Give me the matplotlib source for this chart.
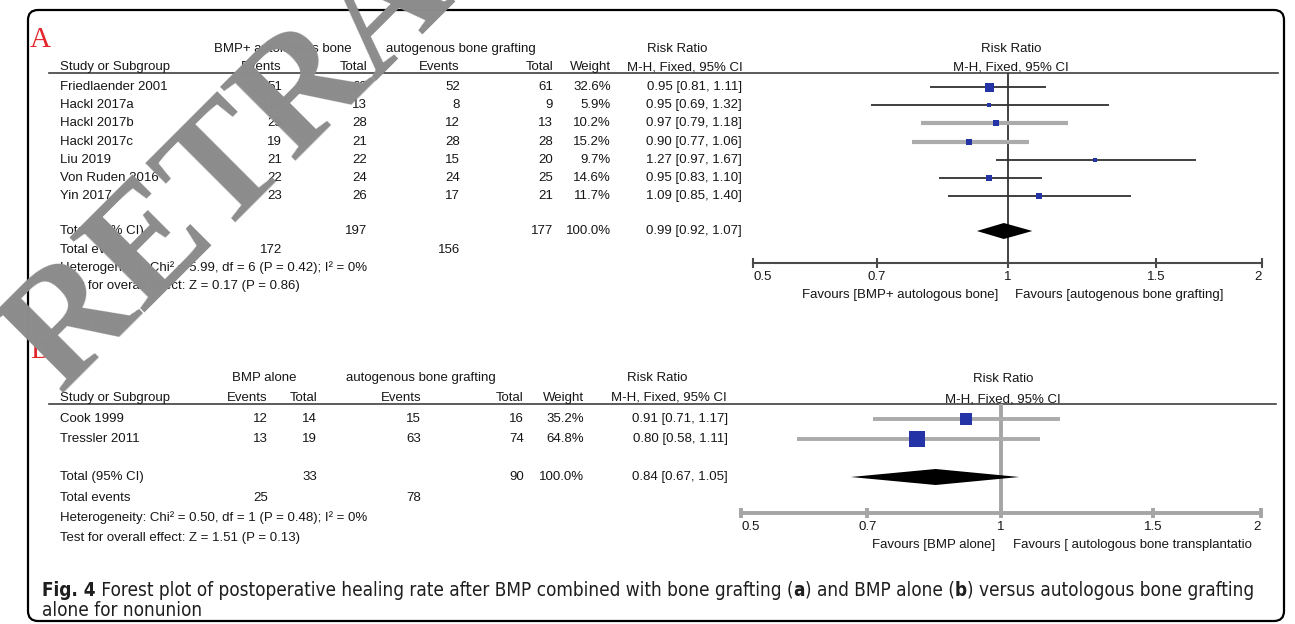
import matplotlib.pyplot as plt
from matplotlib import font_manager
from matplotlib.patches import FancyBboxPatch
from matplotlib.ticker import NullLocator

plt.rcParams['font.family'] = ['Liberation Sans', 'DejaVu Sans']
plt.rcParams['font.size'] = 9.5

W, H = 1295, 624

# --- panel A: BMP + autologous bone vs autogenous bone grafting
studies_a = ['Friedlaender 2001', 'Hackl 2017a', 'Hackl 2017b', 'Hackl 2017c',
             'Liu 2019', 'Von Ruden 2016', 'Yin 2017']
exp_events_a = [51, 11, 25, 19, 21, 22, 23]
exp_total_a = [63, 13, 28, 21, 22, 24, 26]
ctl_events_a = [52, 8, 12, 28, 15, 24, 17]
ctl_total_a = [61, 9, 13, 28, 20, 25, 21]
weight_a = [32.6, 5.9, 10.2, 15.2, 9.7, 14.6, 11.7]
rr_a = [0.95, 0.95, 0.97, 0.90, 1.27, 0.95, 1.09]
lo_a = [0.81, 0.69, 0.79, 0.77, 0.97, 0.83, 0.85]
hi_a = [1.11, 1.32, 1.18, 1.06, 1.67, 1.10, 1.40]
pooled_a = [0.99, 0.92, 1.07]
groups_a = ['BMP+ autologous bone', 'autogenous bone grafting']
het_a = 'Heterogeneity: Chi² = 5.99, df = 6 (P = 0.42); I² = 0%'
test_a = 'Test for overall effect: Z = 0.17 (P = 0.86)'
favours_a = ['Favours [BMP+ autologous bone]', 'Favours [autogenous bone grafting]']

# --- panel B: BMP alone vs autogenous bone grafting
studies_b = ['Cook 1999', 'Tressler 2011']
exp_events_b = [12, 13]
exp_total_b = [14, 19]
ctl_events_b = [15, 63]
ctl_total_b = [16, 74]
weight_b = [35.2, 64.8]
rr_b = [0.91, 0.80]
lo_b = [0.71, 0.58]
hi_b = [1.17, 1.11]
pooled_b = [0.84, 0.67, 1.05]
groups_b = ['BMP alone', 'autogenous bone grafting']
het_b = 'Heterogeneity: Chi² = 0.50, df = 1 (P = 0.48); I² = 0%'
test_b = 'Test for overall effect: Z = 1.51 (P = 0.13)'
favours_b = ['Favours [BMP alone]', 'Favours [ autologous bone transplantatio']

ticks = [0.5, 0.7, 1, 1.5, 2]
tick_labels = ['0.5', '0.7', '1', '1.5', '2']

panels = [
    dict(letter='A', studies=studies_a, ee=exp_events_a, et=exp_total_a, ce=ctl_events_a,
         ct=ctl_total_a, wt=weight_a, rr=rr_a, lo=lo_a, hi=hi_a, pooled=pooled_a,
         groups=groups_a, het=het_a, test=test_a, favours=favours_a),
    dict(letter='B', studies=studies_b, ee=exp_events_b, et=exp_total_b, ce=ctl_events_b,
         ct=ctl_total_b, wt=weight_b, rr=rr_b, lo=lo_b, hi=hi_b, pooled=pooled_b,
         groups=groups_b, het=het_b, test=test_b, favours=favours_b),
]

# pixel layout of each panel (y grows downwards)
layouts = [
    dict(letter_y=47, cols=[60, 282, 367, 460, 553, 611, 742], group_x=[283, 461, 677], mh_x=685,
         hdr_y=[49, 67], rule=[49, 1278, 73], rows=[87 + 18.2 * i for i in range(7)],
         tot_y=[231, 250, 268, 286], px=[753, 1262], axis_y=263, rr_x=1011, rhdr_y=[49, 68],
         fav_y=295, fav_x=[998, 1015],
         vline=('#333333', 1.3), axis=('#4a4a4a', 1.5),
         ci_c=['#303030', '#303030', '#ababab', '#ababab', '#303030', '#303030', '#303030'],
         ci_lw=[1.3, 1.3, 3.0, 3.0, 1.3, 1.3, 1.3], max_side=9),
    dict(letter_y=358, cols=[60, 268, 317, 421, 524, 584, 728], group_x=[264, 421, 657], mh_x=669,
         hdr_y=[378, 398], rule=[49, 1276, 404], rows=[419, 439],
         tot_y=[477, 498, 518, 538], px=[741, 1261], axis_y=513, rr_x=1003, rhdr_y=[379, 399],
         fav_y=545, fav_x=[995, 1013],
         vline=('#a5a5a5', 2.8), axis=('#a5a5a5', 2.8),
         ci_c=['#ababab', '#ababab'], ci_lw=[2.8, 2.8], max_side=16),
]

ink = '#161616'
fig = plt.figure(figsize=(W / 100, H / 100), dpi=100)
bg = fig.add_axes([0, 0, 1, 1])
bg.set_xlim(0, W)
bg.set_ylim(H, 0)
bg.axis('off')

# rounded frame around the whole figure
bg.add_patch(FancyBboxPatch((28, 10), 1256, 611, boxstyle='round,pad=0,rounding_size=10',
                            fill=False, ec='black', lw=1.6))

for d, L in zip(panels, layouts):
    c = L['cols']
    bg.text(30, L['letter_y'], d['letter'], family='Liberation Serif', fontsize=21,
            color='#e3262a', va='baseline')

    # header
    h1, h2 = L['hdr_y']
    bg.text(L['group_x'][0], h1, d['groups'][0], ha='center', va='center', color=ink)
    bg.text(L['group_x'][1], h1, d['groups'][1], ha='center', va='center', color=ink)
    bg.text(L['group_x'][2], h1, 'Risk Ratio', ha='center', va='center', color=ink)
    bg.text(c[0], h2, 'Study or Subgroup', va='center', color=ink)
    for x, s in zip(c[1:6], ['Events', 'Total', 'Events', 'Total', 'Weight']):
        bg.text(x, h2, s, ha='right', va='center', color=ink)
    bg.text(L['mh_x'], h2, 'M-H, Fixed, 95% CI', ha='center', va='center', color=ink)
    bg.text(L['rr_x'], L['rhdr_y'][0], 'Risk Ratio', ha='center', va='center', color=ink)
    bg.text(L['rr_x'], L['rhdr_y'][1], 'M-H, Fixed, 95% CI', ha='center', va='center', color=ink)
    x_a, x_b, y_r = L['rule']
    bg.plot([x_a, x_b], [y_r, y_r], color='#404040', lw=1.2)

    # one line per study
    for i, y in enumerate(L['rows']):
        cells = [d['ee'][i], d['et'][i], d['ce'][i], d['ct'][i], f"{d['wt'][i]:.1f}%",
                 f"{d['rr'][i]:.2f} [{d['lo'][i]:.2f}, {d['hi'][i]:.2f}]"]
        bg.text(c[0], y, d['studies'][i], va='center', color=ink)
        for x, v in zip(c[1:], cells):
            bg.text(x, y, str(v), ha='right', va='center', color=ink)

    # totals and tests
    ty, ey, hy, sy = L['tot_y']
    est, plo, phi = d['pooled']
    bg.text(c[0], ty, 'Total (95% CI)', va='center', color=ink)
    bg.text(c[2], ty, str(sum(d['et'])), ha='right', va='center', color=ink)
    bg.text(c[4], ty, str(sum(d['ct'])), ha='right', va='center', color=ink)
    bg.text(c[5], ty, '100.0%', ha='right', va='center', color=ink)
    bg.text(c[6], ty, f'{est:.2f} [{plo:.2f}, {phi:.2f}]', ha='right', va='center', color=ink)
    bg.text(c[0], ey, 'Total events', va='center', color=ink)
    bg.text(c[1], ey, str(sum(d['ee'])), ha='right', va='center', color=ink)
    bg.text(c[3], ey, str(sum(d['ce'])), ha='right', va='center', color=ink)
    bg.text(c[0], hy, d['het'], va='center', color=ink)
    bg.text(c[0], sy, d['test'], va='center', color=ink)

    # forest plot part
    x0, x1 = L['px']
    y0, y1 = L['rule'][2], L['axis_y']
    ax = fig.add_axes([x0 / W, 1 - y1 / H, (x1 - x0) / W, (y1 - y0) / H])
    ax.set_xscale('log')
    ax.set_xlim(0.5, 2)
    ax.set_ylim(y1, y0)
    ax.patch.set_visible(False)
    for s in ['top', 'left', 'right']:
        ax.spines[s].set_visible(False)
    ax.spines['bottom'].set_color(L['axis'][0])
    ax.spines['bottom'].set_linewidth(L['axis'][1])
    ax.set_yticks([])
    ax.set_xticks(ticks)
    ax.set_xticklabels(tick_labels)
    ax.xaxis.set_minor_locator(NullLocator())
    ax.tick_params(axis='x', direction='inout', length=7, width=L['axis'][1],
                   color=L['axis'][0], pad=2, labelsize=9.5, labelcolor=ink)
    lab = ax.get_xticklabels()
    lab[0].set_ha('left')
    lab[-1].set_ha('right')
    ax.axvline(1, color=L['vline'][0], lw=L['vline'][1], zorder=1)

    wmax = max(d['wt'])
    for i, y in enumerate(L['rows']):
        ax.plot([d['lo'][i], d['hi'][i]], [y, y], color=L['ci_c'][i], lw=L['ci_lw'][i],
                solid_capstyle='butt', zorder=2)
        side = L['max_side'] * (d['wt'][i] / wmax) ** 0.5
        ax.plot(d['rr'][i], y, 's', ms=side * 0.72, color='#2434a6', mew=0, zorder=3)
    ax.fill([plo, est, phi, est], [ty, ty - 8, ty, ty + 8], color='black', lw=0, zorder=3)

    bg.text(L['fav_x'][0], L['fav_y'], d['favours'][0], ha='right', va='center', color=ink)
    bg.text(L['fav_x'][1], L['fav_y'], d['favours'][1], ha='left', va='center', color=ink)

# caption below the two panels, in a narrow face when one is installed
installed = font_manager.fontManager.ttflist
cap_kw = dict(family='Liberation Sans')
if any(f.name == 'Liberation Sans Narrow' for f in installed):
    cap_kw = dict(family='Liberation Sans Narrow')
elif any(f.name == 'DejaVu Sans' and f.stretch == 'condensed' for f in installed):
    cap_kw = dict(family='DejaVu Sans', fontstretch='condensed')

cap_line1 = [('Fig. 4', 'bold'),
             (' Forest plot of postoperative healing rate after BMP combined with bone grafting (', 'normal'),
             ('a', 'bold'), (') and BMP alone (', 'normal'), ('b', 'bold'),
             (') versus autologous bone grafting', 'normal')]
cap_line2 = [('alone for nonunion', 'normal')]

renderer = fig.canvas.get_renderer()


def seg_width(s, size, weight):
    t = bg.text(0, 0, '|' + s + '|', fontsize=size, fontweight=weight, **cap_kw)
    w = t.get_window_extent(renderer).width
    t.set_text('||')
    w -= t.get_window_extent(renderer).width
    t.remove()
    return w


cap_size = 10 * 1211 / sum(seg_width(s, 10, wgt) for s, wgt in cap_line1)
for parts, y in [(cap_line1, 590), (cap_line2, 611)]:
    x = 42
    for s, wgt in parts:
        bg.text(x, y, s, fontsize=cap_size, fontweight=wgt, va='center', color='#1e1e1e', **cap_kw)
        x += seg_width(s, cap_size, wgt)

# retraction watermark lying over the figure
fig.text(62 / W, 1 - 396 / H, 'RETRACTED ARTICLE', family='Liberation Serif', fontsize=115,
         fontweight='bold', color='#8c8c8c', rotation=45, rotation_mode='anchor',
         ha='left', va='baseline', zorder=10)

fig.savefig('out.png', dpi=100)
